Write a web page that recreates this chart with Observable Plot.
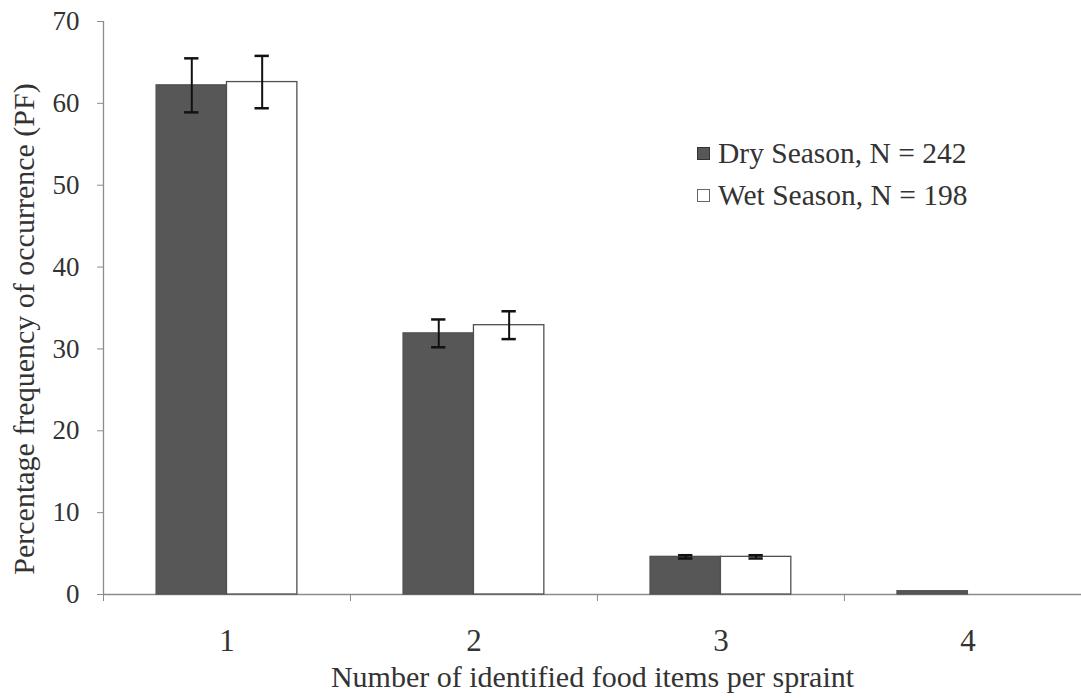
<!DOCTYPE html>
<html><head><meta charset="utf-8">
<script src="https://cdn.jsdelivr.net/npm/d3@7"></script>
<script src="https://cdn.jsdelivr.net/npm/@observablehq/plot@0.6"></script>
<style>
body{margin:0;background:#fff;}
#wrap{position:relative;width:1081px;height:700px;font-family:'Liberation Serif','Times New Roman',serif;}
#wrap svg, #wrap svg text{font-family:'Liberation Serif','Times New Roman',serif !important;}
#legend{position:absolute;left:697px;top:132px;font-size:29.5px;color:#333;line-height:42px;}
.row{display:flex;align-items:center;}
.sw{width:13px;height:13px;margin-right:8px;box-sizing:border-box;border:1px solid #444;}
</style></head><body><div id="wrap"><div id="legend"></div></div>
<script>
const categories = [1, 2, 3, 4];
const seriesNames = ["Dry Season, N = 242", "Wet Season, N = 198"];
const dryValues = [62.2, 31.9, 4.6, 0.4];
const wetValues = [62.6, 32.9, 4.6, 0];
const dryErrors = [3.3, 1.7, 0.2, 0];
const wetErrors = [3.2, 1.7, 0.2, 0];
const yTicks = [0, 10, 20, 30, 40, 50, 60, 70];
const boundaryTicks = [0.5, 1.5, 2.5, 3.5];
const xTitle = "Number of identified food items per spraint";
const yTitle = "Percentage frequency of occurrence (PF)";

const fills = ["#575757", "#ffffff"];
const strokes = ["#505050", "#505050"];
const bw = 0.285;   // bar width in category units
const cap = 0.029;  // error cap half-width

const rows = [];
categories.forEach((c, i) => {
  rows.push({cat: c, side: 0, series: seriesNames[0], value: dryValues[i], err: dryErrors[i]});
  rows.push({cat: c, side: 1, series: seriesNames[1], value: wetValues[i], err: wetErrors[i]});
});
const bars = rows.filter(d => d.value > 0);
const errs = rows.filter(d => d.err > 0);
const mid = d => d.cat + (d.side - 0.5) * bw;

const plot = Plot.plot({
  width: 1081, height: 700,
  marginLeft: 103, marginRight: 0, marginTop: 21, marginBottom: 106,
  style: {background: "transparent", overflow: "visible"},
  x: {type: "linear", domain: [0.5, 4.46]},
  y: {domain: [0, 70]},
  marks: [
    Plot.ruleY([0], {stroke: "#8c8c8c", strokeWidth: 1.3}),
    Plot.ruleX([0.5], {y1: 0, y2: 70, stroke: "#8c8c8c", strokeWidth: 1.3}),
    Plot.axisY({ticks: yTicks, tickSize: 6, tickPadding: 18, fontSize: 27, stroke: "#8c8c8c", fill: "#333", label: null}),
    Plot.text([yTitle], {frameAnchor: "left", rotate: -90, lineAnchor: "top", textAnchor: "middle", dx: -91, dy: 21, fontSize: 30, fill: "#333"}),
    Plot.axisX({ticks: boundaryTicks, tickFormat: () => "", tickSize: 7, stroke: "#8c8c8c", label: null}),
    Plot.axisX({ticks: categories, tickFormat: d => String(d), tickSize: 0, tickPadding: 34, fontSize: 31, fill: "#333", label: null}),
    Plot.axisX({ticks: [], tickSize: 0, fontSize: 30, fill: "#333", label: xTitle, labelAnchor: "center", labelArrow: "none", labelOffset: 92}),
    Plot.rectY(bars, {
      x1: d => d.cat + (d.side - 1) * bw,
      x2: d => d.cat + d.side * bw,
      y1: 0, y2: "value",
      fill: d => fills[d.side], stroke: d => strokes[d.side], strokeWidth: 1.3
    }),
    Plot.ruleX(errs, {x: mid, y1: d => d.value - d.err, y2: d => d.value + d.err, stroke: "#111", strokeWidth: 2}),
    Plot.ruleY(errs, {y: d => d.value - d.err, x1: d => mid(d) - cap, x2: d => mid(d) + cap, stroke: "#111", strokeWidth: 2.5}),
    Plot.ruleY(errs, {y: d => d.value + d.err, x1: d => mid(d) - cap, x2: d => mid(d) + cap, stroke: "#111", strokeWidth: 2.5})
  ]
});
document.getElementById("wrap").prepend(plot);

const legend = document.getElementById("legend");
seriesNames.forEach((name, i) => {
  const row = document.createElement("div");
  row.className = "row";
  const sw = document.createElement("span");
  sw.className = "sw";
  sw.style.background = fills[i];
  sw.style.borderColor = i === 0 ? "#333" : "#666";
  const t = document.createElement("span");
  t.textContent = name;
  row.append(sw, t);
  legend.append(row);
});
</script>
</body></html>
